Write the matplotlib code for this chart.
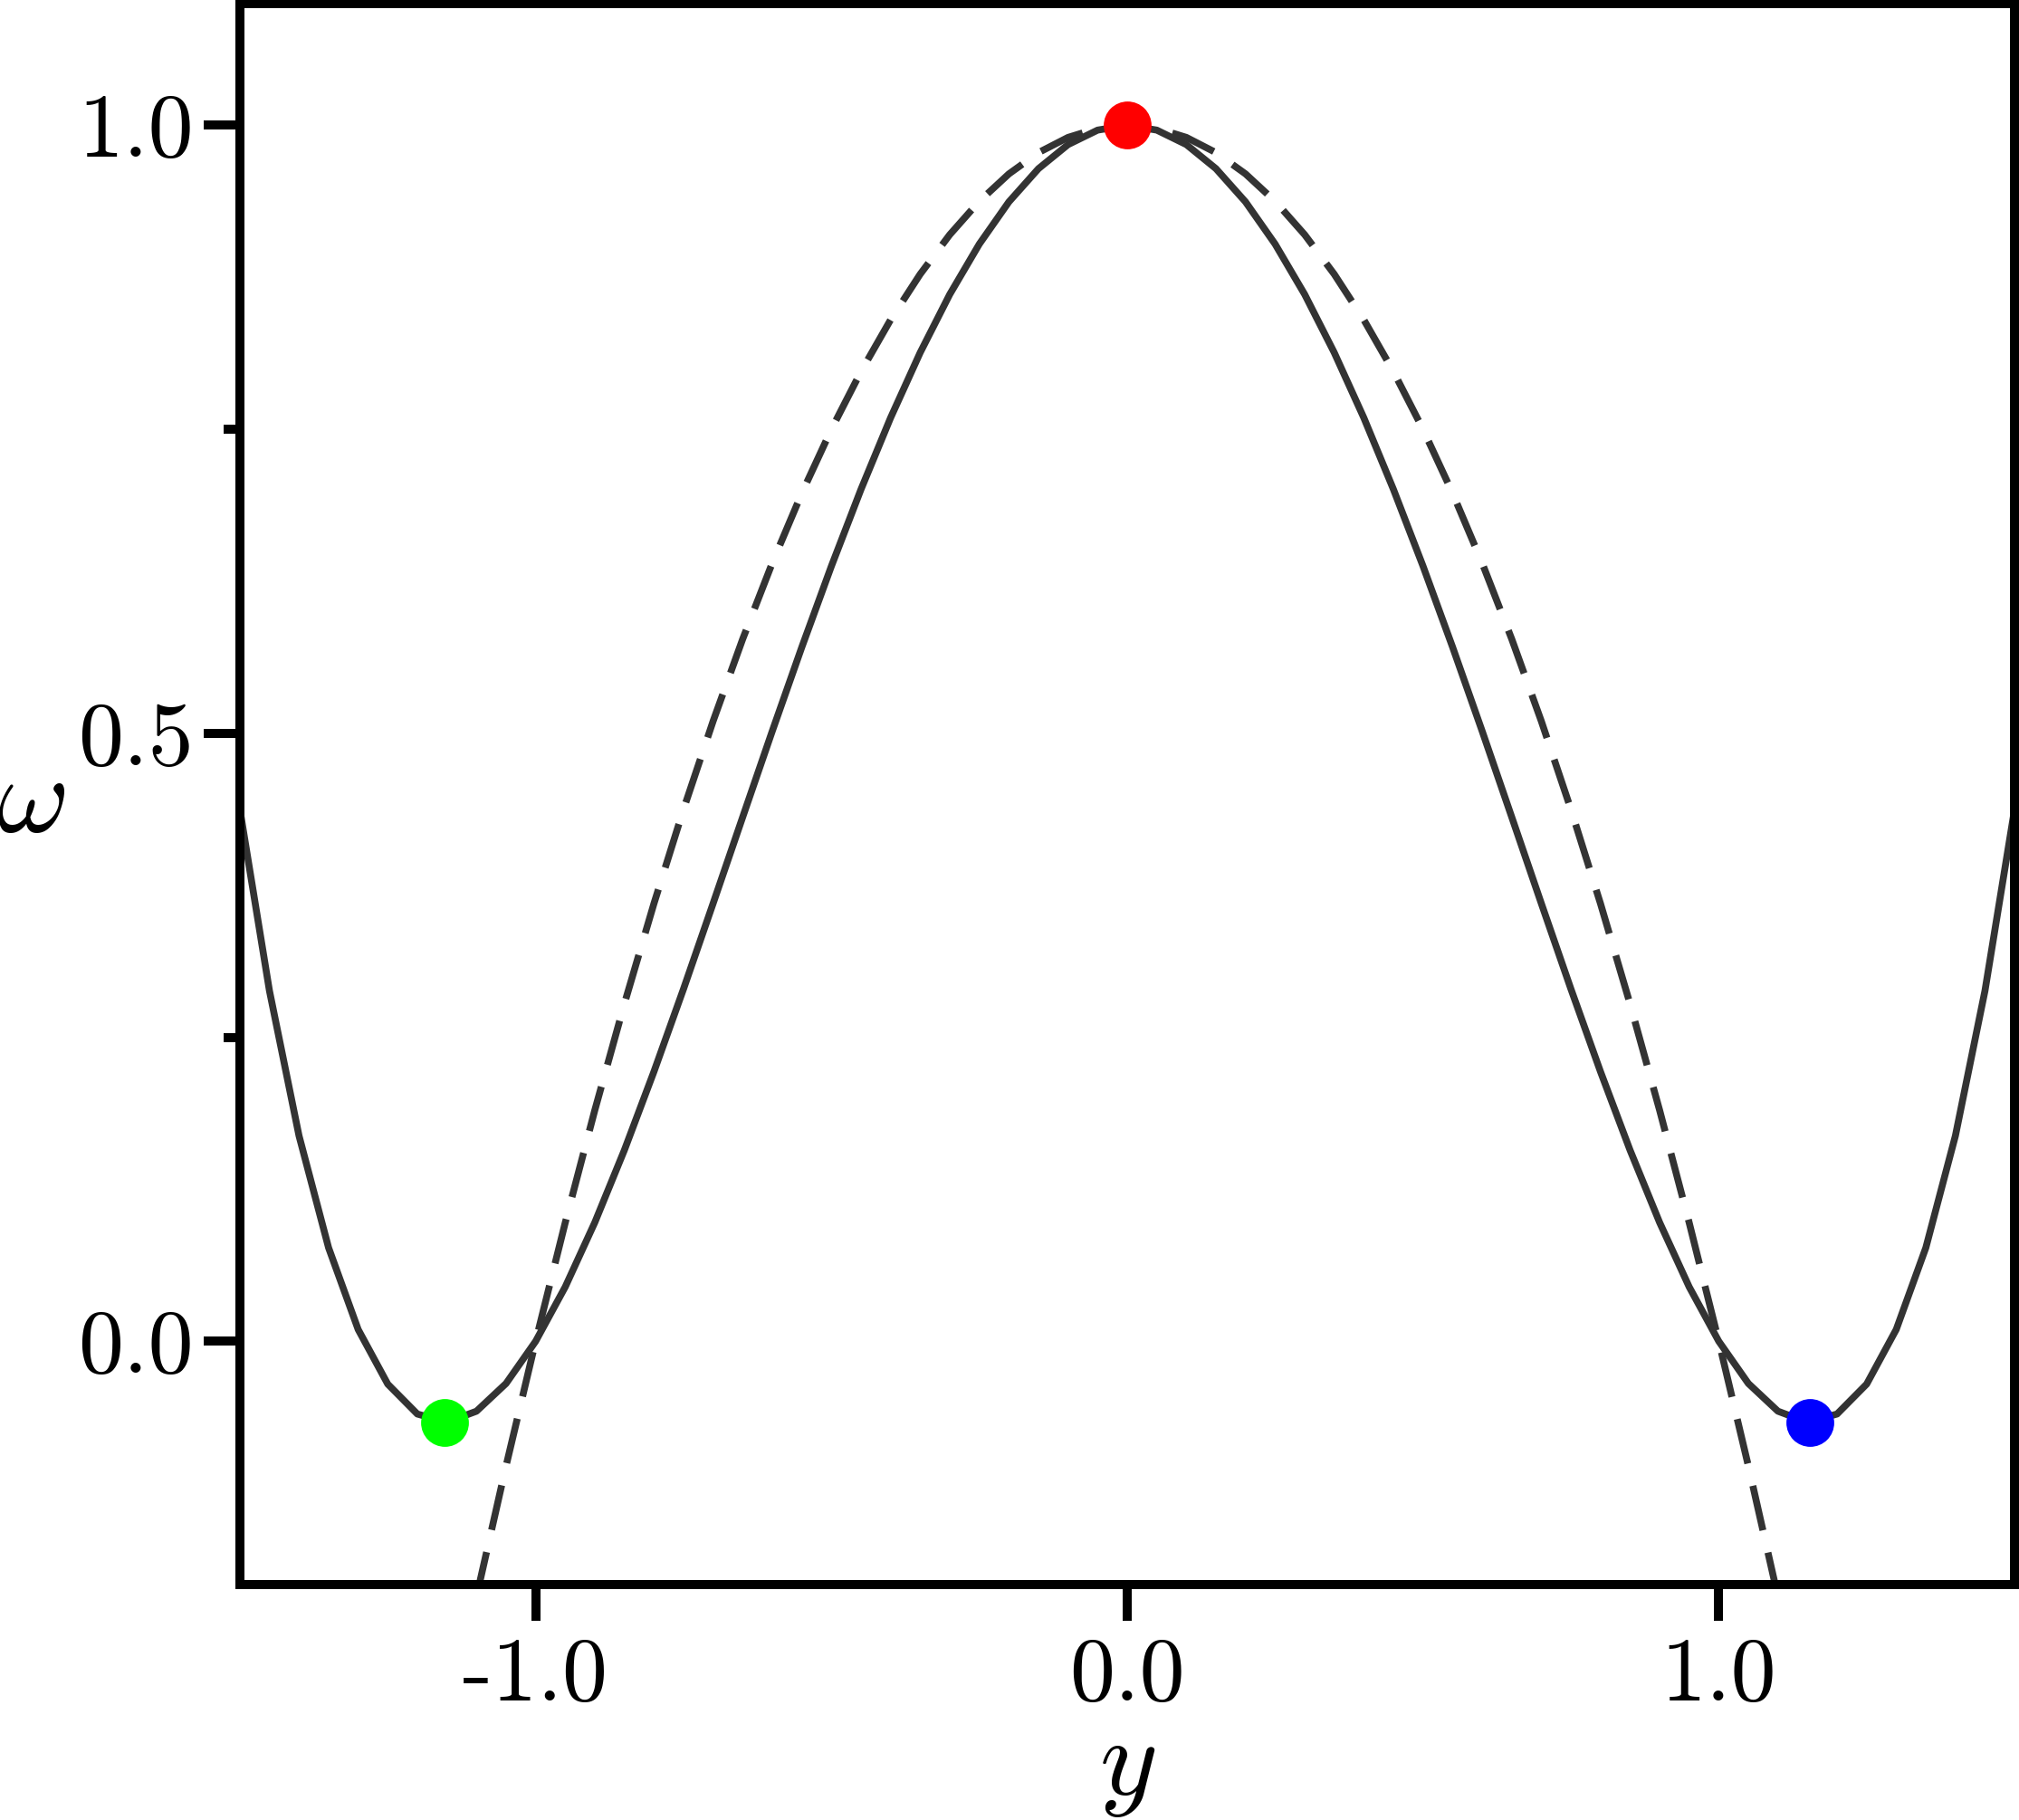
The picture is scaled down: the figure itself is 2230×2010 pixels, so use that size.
import matplotlib
matplotlib.use("Agg")
import matplotlib.pyplot as plt

plt.rcParams['font.family'] = 'cmr10'
plt.rcParams['mathtext.fontset'] = 'cm'
plt.rcParams['axes.unicode_minus'] = False

# solid curve (y from -1.5 to 1.5, step 0.05)
y_solid = [-1.50, -1.45, -1.40, -1.35, -1.30, -1.25, -1.20, -1.15, -1.10, -1.05,
           -1.00, -0.95, -0.90, -0.85, -0.80, -0.75, -0.70, -0.65, -0.60, -0.55,
           -0.50, -0.45, -0.40, -0.35, -0.30, -0.25, -0.20, -0.15, -0.10, -0.05,
           0.00, 0.05, 0.10, 0.15, 0.20, 0.25, 0.30, 0.35, 0.40, 0.45,
           0.50, 0.55, 0.60, 0.65, 0.70, 0.75, 0.80, 0.85, 0.90, 0.95,
           1.00, 1.05, 1.10, 1.15, 1.20, 1.25, 1.30, 1.35, 1.40, 1.45, 1.50]
w_solid = [0.4375, 0.2883, 0.1690, 0.0769, 0.0097, -0.0352, -0.0598, -0.0666, -0.0575, -0.0347,
           0.0000, 0.0447, 0.0977, 0.1572, 0.2218, 0.2898, 0.3601, 0.4311, 0.5018, 0.5709,
           0.6375, 0.7006, 0.7594, 0.8130, 0.8609, 0.9023, 0.9370, 0.9643, 0.9841, 0.9960,
           1.0000, 0.9960, 0.9841, 0.9643, 0.9370, 0.9023, 0.8609, 0.8130, 0.7594, 0.7006,
           0.6375, 0.5709, 0.5018, 0.4311, 0.3601, 0.2898, 0.2218, 0.1572, 0.0977, 0.0447,
           0.0000, -0.0347, -0.0575, -0.0666, -0.0598, -0.0352, 0.0097, 0.0769, 0.1690, 0.2883, 0.4375]

# dashed curve
y_dash = [-1.10, -1.05, -1.00, -0.95, -0.90, -0.85, -0.80, -0.75, -0.70, -0.65,
          -0.60, -0.55, -0.50, -0.45, -0.40, -0.35, -0.30, -0.25, -0.20, -0.15,
          -0.10, -0.05, 0.00, 0.05, 0.10, 0.15, 0.20, 0.25, 0.30, 0.35,
          0.40, 0.45, 0.50, 0.55, 0.60, 0.65, 0.70, 0.75, 0.80, 0.85,
          0.90, 0.95, 1.00, 1.05, 1.10]
w_dash = [-0.2100, -0.1025, 0.0000, 0.0975, 0.1900, 0.2775, 0.3600, 0.4375, 0.5100, 0.5775,
          0.6400, 0.6975, 0.7500, 0.7975, 0.8400, 0.8775, 0.9100, 0.9375, 0.9600, 0.9775,
          0.9900, 0.9975, 1.0000, 0.9975, 0.9900, 0.9775, 0.9600, 0.9375, 0.9100, 0.8775,
          0.8400, 0.7975, 0.7500, 0.6975, 0.6400, 0.5775, 0.5100, 0.4375, 0.3600, 0.2775,
          0.1900, 0.0975, 0.0000, -0.1025, -0.2100]

# special points
pt_y = [0.0, -1.1547, 1.1547]
pt_w = [1.0, -0.0667, -0.0667]
pt_colors = ['#ff0000', '#00ff00', '#0000ff']

xtick_pos = [-1.0, 0.0, 1.0]
xtick_lab = ['-1.0', '0.0', '1.0']
ytick_pos = [0.0, 0.5, 1.0]
ytick_lab = ['0.0', '0.5', '1.0']

fig = plt.figure(figsize=(22.3, 20.1), dpi=100)
ax = fig.add_axes([0.1188, 0.1294, 0.9978 - 0.1188, 0.998 - 0.1294])

ax.plot(y_solid, w_solid, color='#333333', lw=5.5, zorder=2)
ax.plot(y_dash, w_dash, color='#333333', lw=5.5, dashes=(6.6, 3.3), zorder=2)
for yy, ww, c in zip(pt_y, pt_w, pt_colors):
    ax.plot(yy, ww, 'o', color=c, markersize=38, markeredgewidth=0, zorder=3)

ax.set_xlim(-1.5, 1.5)
ax.set_ylim(-0.2, 1.1)

ax.set_xticks(xtick_pos)
ax.set_xticklabels(xtick_lab)
ax.set_yticks(ytick_pos)
ax.set_yticklabels(ytick_lab)
ax.set_yticks([0.25, 0.75], minor=True)

ax.tick_params(which='major', direction='out', length=29, width=7.2, labelsize=72, pad=13)
ax.tick_params(axis='y', which='major', pad=8)
ax.tick_params(which='minor', direction='out', length=13, width=7.2)
for s in ax.spines.values():
    s.set_linewidth(7.2)

ax.set_xlabel(r'$y$', fontsize=88, labelpad=2)
ax.set_ylabel(r'$\omega$', fontsize=88, rotation=0)
ax.yaxis.set_label_coords(-0.118, 0.462)

fig.savefig('out.png', dpi=100)
